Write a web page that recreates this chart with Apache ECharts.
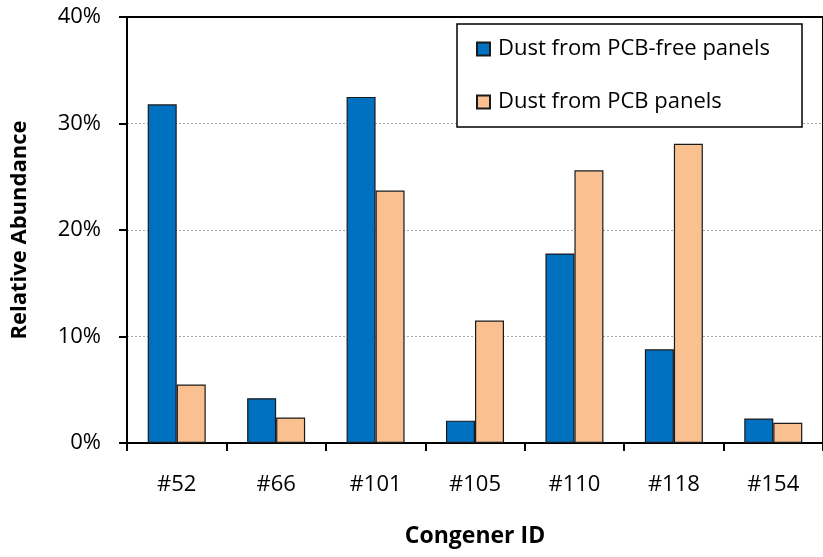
<!DOCTYPE html>
<html>
<head>
<meta charset="utf-8">
<script src="https://cdn.jsdelivr.net/npm/echarts@6/dist/echarts.min.js"></script>
<style>
html,body{margin:0;padding:0;background:#fff;}
#chart{width:823px;height:557px;}
</style>
</head>
<body>
<div id="chart"></div>
<script>
const categories = ['#52', '#66', '#101', '#105', '#110', '#118', '#154'];
const pcbFree = [31.8, 4.2, 32.5, 2.1, 17.8, 8.8, 2.3];
const pcbPanels = [5.5, 2.4, 23.7, 11.5, 25.6, 28.1, 1.9];
const seriesNames = ['Dust from PCB-free panels', 'Dust from PCB panels'];
const yTicks = { min: 0, max: 40, interval: 10 };

const FONT = 'Open Sans';
const chart = echarts.init(document.getElementById('chart'));
chart.setOption({
  animation: false,
  backgroundColor: '#fff',
  textStyle: { fontFamily: FONT },
  grid: {
    left: 127, top: 17, bottom: 114, right: -8,
    show: true, borderColor: '#000', borderWidth: 2, backgroundColor: 'transparent'
  },
  legend: {
    orient: 'vertical',
    left: 457, top: 24,
    padding: [12, 20, 12, 19],
    itemGap: 27,
    itemWidth: 13, itemHeight: 13,
    icon: 'rect',
    backgroundColor: '#fff',
    borderColor: '#000', borderWidth: 1.5,
    textStyle: { fontFamily: FONT, fontSize: 22, color: '#000', lineHeight: 26, width: 284, padding: [0, 0, 0, 3] },
    data: seriesNames
  },
  xAxis: {
    type: 'category',
    data: categories,
    name: 'Congener ID',
    nameLocation: 'middle',
    nameGap: 82,
    nameTextStyle: { fontFamily: FONT, fontSize: 23, fontWeight: 'bold', color: '#000' },
    axisLine: { lineStyle: { color: '#000', width: 2 } },
    axisTick: { show: true, length: 8, lineStyle: { color: '#000', width: 2 } },
    axisLabel: { fontFamily: FONT, fontSize: 22, color: '#000', margin: 31 }
  },
  yAxis: {
    type: 'value',
    min: yTicks.min, max: yTicks.max, interval: yTicks.interval,
    name: 'Relative Abundance',
    nameLocation: 'middle',
    nameGap: 96,
    nameTextStyle: { fontFamily: FONT, fontSize: 22, fontWeight: 'bold', color: '#000' },
    axisLine: { show: true, lineStyle: { color: '#000', width: 2 } },
    axisTick: { show: true, length: 8, lineStyle: { color: '#000', width: 2 } },
    axisLabel: { fontFamily: FONT, fontSize: 22, color: '#000', margin: 26, formatter: '{value}%' },
    splitLine: { show: true, showMinLine: false, showMaxLine: false, lineStyle: { color: '#a6a6a6', type: [2, 2], width: 1 } }
  },
  series: [
    {
      name: seriesNames[0], type: 'bar', data: pcbFree,
      barWidth: 29, barGap: '0%',
      itemStyle: { color: '#0070C0', borderColor: '#1a1a1a', borderWidth: 1.2 }
    },
    {
      name: seriesNames[1], type: 'bar', data: pcbPanels,
      barWidth: 29, barGap: '0%',
      itemStyle: { color: '#FAC090', borderColor: '#1a1a1a', borderWidth: 1.2 }
    }
  ]
});
</script>
</body>
</html>
